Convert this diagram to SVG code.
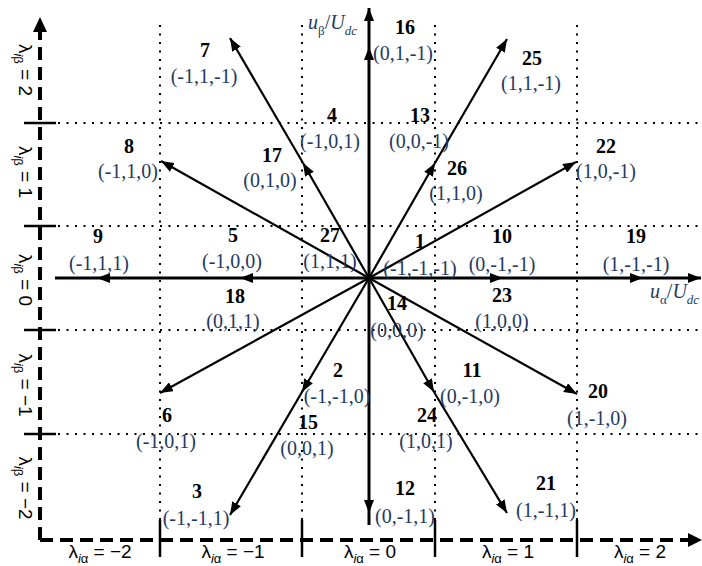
<svg xmlns="http://www.w3.org/2000/svg" width="702" height="566" viewBox="0 0 702 566">
<defs>
<style>
.num{font-family:"Liberation Serif",serif;font-weight:bold;font-size:20px;text-anchor:middle;fill:#000}
.tup{font-family:"Liberation Serif",serif;font-size:20px;text-anchor:middle;fill:#1f3a60}
.lam{font-family:"Liberation Sans",sans-serif;font-size:19px;fill:#000;text-anchor:middle}
.sub{font-size:13px}
.it{font-style:italic}
.ital{font-family:"Liberation Serif",serif;font-size:20px;font-style:italic;fill:#1f3a60}
.grid{stroke:#000;stroke-width:2;stroke-dasharray:2 6.5;fill:none}
.dash{stroke:#000;stroke-width:4;stroke-dasharray:13 7;fill:none}
.tick{stroke:#000;stroke-width:2.5;fill:none}
.vec{stroke:#000;stroke-width:2.2;fill:none}
.ax{stroke-width:3}
.arr{marker-end:url(#ah)}
</style>
<marker id="ah" viewBox="0 0 13 10" refX="13" refY="5" markerWidth="13" markerHeight="10" markerUnits="userSpaceOnUse" orient="auto">
<path d="M0,0 L13,5 L0,10 z" fill="#000"/>
</marker>
</defs>
<rect width="702" height="566" fill="#fff"/>

<g id="grid">
<line class="grid" x1="160" y1="25" x2="160" y2="520"/>
<line class="grid" x1="302" y1="25" x2="302" y2="520"/>
<line class="grid" x1="435" y1="25" x2="435" y2="520"/>
<line class="grid" x1="577" y1="25" x2="577" y2="520"/>
<line class="grid" x1="58" y1="123" x2="700" y2="123"/>
<line class="grid" x1="58" y1="226" x2="700" y2="226"/>
<line class="grid" x1="58" y1="330" x2="700" y2="330"/>
<line class="grid" x1="58" y1="434" x2="700" y2="434"/>
</g>

<g id="lambda-axes">
<line class="dash" x1="40" y1="540" x2="40" y2="30"/>
<path d="M33,32 L40,17 L47,32 z" fill="#000"/>
<line class="dash" x1="40" y1="540" x2="690" y2="540"/>
<path d="M688,533 L702,540 L688,547 z" fill="#000"/>
<line class="tick" x1="24" y1="123" x2="56" y2="123"/>
<line class="tick" x1="24" y1="226" x2="56" y2="226"/>
<line class="tick" x1="24" y1="330" x2="56" y2="330"/>
<line class="tick" x1="24" y1="434" x2="56" y2="434"/>
<line class="tick" x1="160" y1="520" x2="160" y2="557"/>
<line class="tick" x1="302" y1="520" x2="302" y2="557"/>
<line class="tick" x1="435" y1="520" x2="435" y2="557"/>
<line class="tick" x1="577" y1="520" x2="577" y2="557"/>
<text class="lam" transform="translate(19,70) rotate(90)">λ<tspan class="sub" dy="5"><tspan class="it">i</tspan>β</tspan><tspan dy="-5"> = 2</tspan></text>
<text class="lam" transform="translate(19,172) rotate(90)">λ<tspan class="sub" dy="5"><tspan class="it">i</tspan>β</tspan><tspan dy="-5"> = 1</tspan></text>
<text class="lam" transform="translate(19,280) rotate(90)">λ<tspan class="sub" dy="5"><tspan class="it">i</tspan>β</tspan><tspan dy="-5"> = 0</tspan></text>
<text class="lam" transform="translate(19,385) rotate(90)">λ<tspan class="sub" dy="5"><tspan class="it">i</tspan>β</tspan><tspan dy="-5"> = −1</tspan></text>
<text class="lam" transform="translate(19,488) rotate(90)">λ<tspan class="sub" dy="5"><tspan class="it">i</tspan>β</tspan><tspan dy="-5"> = −2</tspan></text>
<text class="lam" x="100" y="558">λ<tspan class="sub" dy="5"><tspan class="it">i</tspan>α</tspan><tspan dy="-5"> = −2</tspan></text>
<text class="lam" x="233" y="558">λ<tspan class="sub" dy="5"><tspan class="it">i</tspan>α</tspan><tspan dy="-5"> = −1</tspan></text>
<text class="lam" x="370" y="558">λ<tspan class="sub" dy="5"><tspan class="it">i</tspan>α</tspan><tspan dy="-5"> = 0</tspan></text>
<text class="lam" x="508" y="558">λ<tspan class="sub" dy="5"><tspan class="it">i</tspan>α</tspan><tspan dy="-5"> = 1</tspan></text>
<text class="lam" x="640" y="558">λ<tspan class="sub" dy="5"><tspan class="it">i</tspan>α</tspan><tspan dy="-5"> = 2</tspan></text>
</g>

<g id="connectors">
<line class="vec ax arr" x1="369" y1="278" x2="240" y2="278"/>
<line class="vec ax arr" x1="240" y1="278" x2="97" y2="278"/>
<line class="vec ax" x1="97" y1="278" x2="55" y2="278"/>
<line class="vec ax arr" x1="369" y1="278" x2="503" y2="278"/>
<line class="vec ax arr" x1="503" y1="278" x2="643" y2="278"/>
<line class="vec ax arr" x1="643" y1="278" x2="701" y2="278"/>
<line class="vec ax arr" x1="369" y1="278" x2="369" y2="47"/>
<line class="vec ax arr" x1="369" y1="47" x2="369" y2="8"/>
<line class="vec ax arr" x1="369" y1="278" x2="369" y2="513"/>
<line class="vec ax" x1="369" y1="513" x2="369" y2="525"/>
<line class="vec arr" x1="369" y1="278" x2="303" y2="163"/>
<line class="vec arr" x1="303" y1="163" x2="230" y2="38"/>
<line class="vec arr" x1="369" y1="278" x2="435" y2="163"/>
<line class="vec arr" x1="435" y1="163" x2="507" y2="39"/>
<line class="vec arr" x1="369" y1="278" x2="161" y2="161"/>
<line class="vec arr" x1="369" y1="278" x2="576" y2="162"/>
<line class="vec arr" x1="369" y1="278" x2="160" y2="393"/>
<line class="vec arr" x1="369" y1="278" x2="577" y2="394"/>
<line class="vec arr" x1="369" y1="278" x2="302" y2="392"/>
<line class="vec arr" x1="302" y1="392" x2="230" y2="515"/>
<line class="vec arr" x1="369" y1="278" x2="434" y2="392"/>
<line class="vec arr" x1="434" y1="392" x2="507" y2="513"/>
</g>

<g id="axis-labels">
<text class="ital" x="308" y="29">u<tspan class="sub" dy="6" style="font-style:normal">β</tspan><tspan dy="-6" style="font-style:normal">/</tspan>U<tspan class="sub" dy="6">dc</tspan></text>
<text class="ital" x="650" y="298">u<tspan class="sub" dy="6" style="font-style:normal">α</tspan><tspan dy="-6" style="font-style:normal">/</tspan>U<tspan class="sub" dy="6">dc</tspan></text>
</g>

<g id="v1"><text class="num" x="420" y="248">1</text><text class="tup" x="420" y="275">(-1,-1,-1)</text></g>
<g id="v2"><text class="num" x="338" y="377">2</text><text class="tup" x="337" y="403">(-1,-1,0)</text></g>
<g id="v3"><text class="num" x="197" y="498">3</text><text class="tup" x="196" y="525">(-1,-1,1)</text></g>
<g id="v4"><text class="num" x="332" y="122">4</text><text class="tup" x="330" y="148">(-1,0,1)</text></g>
<g id="v5"><text class="num" x="233" y="242">5</text><text class="tup" x="232" y="268">(-1,0,0)</text></g>
<g id="v6"><text class="num" x="167" y="422">6</text><text class="tup" x="166" y="448">(-1,0,1)</text></g>
<g id="v7"><text class="num" x="205" y="57">7</text><text class="tup" x="204" y="83">(-1,1,-1)</text></g>
<g id="v8"><text class="num" x="129" y="153">8</text><text class="tup" x="128" y="178">(-1,1,0)</text></g>
<g id="v9"><text class="num" x="98" y="243">9</text><text class="tup" x="99" y="270">(-1,1,1)</text></g>
<g id="v10"><text class="num" x="502" y="243">10</text><text class="tup" x="502" y="271">(0,-1,-1)</text></g>
<g id="v11"><text class="num" x="472" y="377">11</text><text class="tup" x="470" y="403">(0,-1,0)</text></g>
<g id="v12"><text class="num" x="405" y="495">12</text><text class="tup" x="405" y="523">(0,-1,1)</text></g>
<g id="v13"><text class="num" x="420" y="122">13</text><text class="tup" x="419" y="148">(0,0,-1)</text></g>
<g id="v14"><text class="num" x="397" y="310">14</text><text class="tup" x="397" y="337">(0,0,0)</text></g>
<g id="v15"><text class="num" x="308" y="429">15</text><text class="tup" x="307" y="455">(0,0,1)</text></g>
<g id="v16"><text class="num" x="405" y="34">16</text><text class="tup" x="403" y="60">(0,1,-1)</text></g>
<g id="v17"><text class="num" x="272" y="162">17</text><text class="tup" x="270" y="187">(0,1,0)</text></g>
<g id="v18"><text class="num" x="235" y="303">18</text><text class="tup" x="233" y="328">(0,1,1)</text></g>
<g id="v19"><text class="num" x="636" y="243">19</text><text class="tup" x="636" y="271">(1,-1,-1)</text></g>
<g id="v20"><text class="num" x="598" y="398">20</text><text class="tup" x="597" y="425">(1,-1,0)</text></g>
<g id="v21"><text class="num" x="546" y="490">21</text><text class="tup" x="546" y="517">(1,-1,1)</text></g>
<g id="v22"><text class="num" x="606" y="153">22</text><text class="tup" x="606" y="178">(1,0,-1)</text></g>
<g id="v23"><text class="num" x="502" y="302">23</text><text class="tup" x="502" y="328">(1,0,0)</text></g>
<g id="v24"><text class="num" x="427" y="422">24</text><text class="tup" x="426" y="448">(1,0,1)</text></g>
<g id="v25"><text class="num" x="532" y="65">25</text><text class="tup" x="531" y="90">(1,1,-1)</text></g>
<g id="v26"><text class="num" x="457" y="175">26</text><text class="tup" x="456" y="200">(1,1,0)</text></g>
<g id="v27"><text class="num" x="330" y="242">27</text><text class="tup" x="330" y="268">(1,1,1)</text></g>
</svg>
